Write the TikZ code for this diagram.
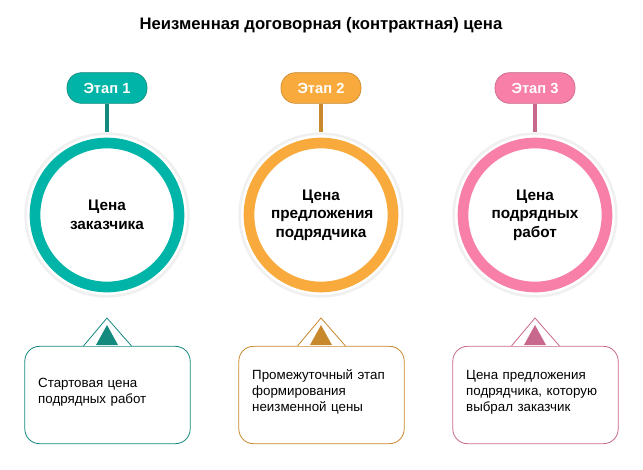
\documentclass[tikz,border=0pt]{standalone}
\usepackage{fontspec}
\setmainfont{Liberation Sans}
\usetikzlibrary{positioning}
\definecolor{tealA}{HTML}{00B5A8}
\definecolor{tealB}{HTML}{148A7E}
\definecolor{orangeA}{HTML}{F9AA3C}
\definecolor{orangeB}{HTML}{C8882C}
\definecolor{pinkA}{HTML}{F77FA8}
\definecolor{pinkB}{HTML}{C8688C}
\tikzset{
  stage/.style={rounded corners=11pt, minimum width=60pt, minimum height=23pt, text=white, font=\bfseries\fontsize{11}{13}\selectfont, line width=0.5pt},
  ring/.style={circle, minimum size=108pt, line width=8pt, fill=white, align=center, font=\bfseries\fontsize{11.5}{14}\selectfont, text width=75pt},
  halo/.style={circle, minimum size=122pt, fill=white, draw=black!6, line width=2pt},
  note/.style={rounded corners=11pt, minimum width=124pt, minimum height=73pt, fill=white, line width=0.6pt, align=left, text width=104pt, font=\fontsize{10}{12}\selectfont, text depth=0pt}
}
\begin{document}
\begin{tikzpicture}[x=0.75pt,y=-0.75pt]
  \useasboundingbox (0,0) rectangle (643,469);
  \node[font=\bfseries\fontsize{12.5}{14}\selectfont] (title) at (321,25) {Неизменная договорная (контрактная) цена};

  \foreach \x/\n/\ca/\cb/\lbl/\txt in {107/1/tealA/tealB/{Цена\\заказчика}/{Стартовая цена\\подрядных работ},
      321/2/orangeA/orangeB/{Цена\\предложения\\подрядчика}/{Промежуточный этап\\формирования\\неизменной цены},
      535/3/pinkA/pinkB/{Цена\\подрядных\\работ}/{Цена предложения\\подрядчика, которую\\выбрал заказчик}} {
    % stage label and stem
    \node[stage, fill=\ca, draw=\cb] (stage-\n) at (\x,88) {Этап \n};
    \node[halo] (halo-\n) at (\x,215) {};
    \node[ring, draw=\ca] (price-\n) at (\x,215) {\lbl};
    \draw[\cb, line width=3pt] (stage-\n.south) -- (halo-\n.north);
    % callout box with pointer
    \node[note, draw=\cb] (note-\n) at (\x+0.5,395) {};
    \node[align=left, text width=104pt, font=\fontsize{10}{12}\selectfont] at (\x+0.5,392) {\txt};
    \coordinate (tip-\n) at (\x,318);
    \draw[\cb, fill=white, line width=0.6pt] ([xshift=-18pt]note-\n.north) -- (tip-\n) -- ([xshift=18pt]note-\n.north);
    \fill[\cb] (\x,325) -- (\x-11,345) -- (\x+11,345) -- cycle;
  }
\end{tikzpicture}
\end{document}
